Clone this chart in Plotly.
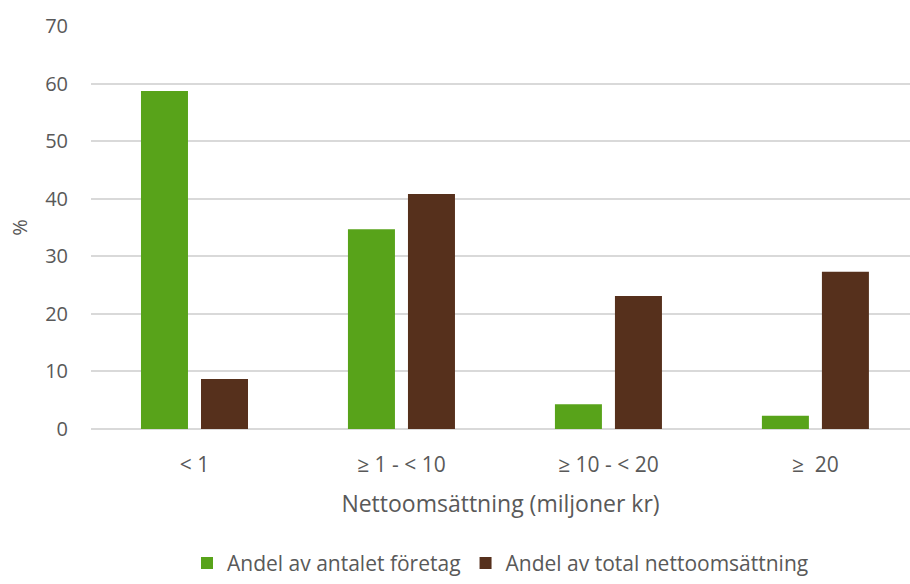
import plotly.graph_objects as go

categories = ["< 1", "≥ 1 - < 10", "≥ 10 - < 20", "≥  20"]
andel_foretag = [58.7, 34.7, 4.3, 2.3]
andel_omsattning = [8.7, 40.8, 23.1, 27.3]
series_names = ["Andel av antalet företag", "Andel av total nettoomsättning"]

font_family = "'Open Sans', Lato, sans-serif"
gray = "#595959"

fig = go.Figure()
fig.add_trace(go.Bar(x=categories, y=andel_foretag, name=series_names[0],
                     marker=dict(color="#58A31A", line=dict(width=0))))
fig.add_trace(go.Bar(x=categories, y=andel_omsattning, name=series_names[1],
                     marker=dict(color="#56301C", line=dict(width=0))))

fig.update_layout(
    width=910, height=584,
    margin=dict(l=91, r=0, t=26, b=155),
    plot_bgcolor="white", paper_bgcolor="white",
    barmode="group", bargap=0.42, bargroupgap=0.217,
    font=dict(family=font_family, size=20, color=gray),
    legend=dict(orientation="h", x=0.5, xanchor="center", y=-0.384, yanchor="bottom",
                font=dict(size=21, color=gray), itemwidth=30, traceorder="normal",
                tracegroupgap=0),
    showlegend=True,
)
fig.update_xaxes(
    type="category", range=[-0.5, 3.457],
    showgrid=False, showline=False, ticks="", ticklabelstandoff=21,
    tickfont=dict(size=21, color=gray),
    title=dict(text="Nettoomsättning (miljoner kr)", font=dict(size=23, color=gray), standoff=18),
)
fig.update_yaxes(
    range=[0, 70], dtick=10, showgrid=True, gridcolor="#d9d9d9", gridwidth=1.5,
    zeroline=True, zerolinecolor="#d9d9d9", zerolinewidth=1.5,
    showline=False, ticks="", ticklabelstandoff=22,
    tickfont=dict(size=20, color=gray),
    title=dict(text="%", font=dict(size=20, color=gray), standoff=12),
)
fig.write_html("out.html")
